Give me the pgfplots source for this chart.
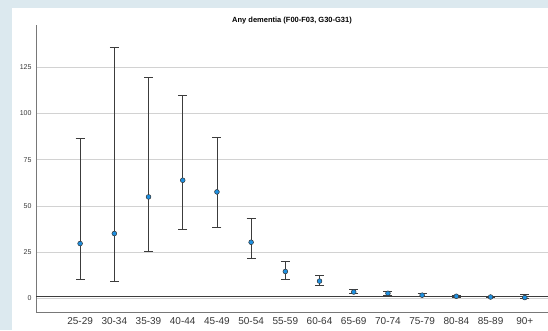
\documentclass[border=0pt]{standalone}
\usepackage{pgfplots}
\pgfplotsset{compat=1.18}
\usepackage{fontspec}
\setmainfont{Liberation Sans}
\definecolor{bgblue}{RGB}{220,233,239}
\definecolor{ptblue}{RGB}{30,144,225}
\definecolor{gridc}{RGB}{210,210,210}
\definecolor{axc}{RGB}{120,120,120}
\definecolor{barc}{RGB}{60,60,60}
\definecolor{txt}{RGB}{55,55,55}
\pgfplotstableread{
x y ep em
0 29.7 56.9 19.6
1 35.1 100.6 26.1
2 54.9 64.5 29.5
3 63.9 46.1 26.8
4 57.6 29.6 19.4
5 30.4 12.8 8.8
6 14.6 5.7 4.2
7 9.4 3.0 2.4
8 3.5 1.3 1.0
9 2.8 1.1 0.9
10 1.8 0.8 0.6
11 1.2 0.5 0.4
12 0.8 0.4 0.3
13 0.5 1.8 0.5
}\datatable
\begin{document}
\begin{tikzpicture}[x=1pt,y=1pt]
\path[use as bounding box] (0,0) rectangle (548,330);
\fill[bgblue] (0,0) rectangle (548,330);
\fill[white] (12,0) rectangle (548,322);
\begin{axis}[
  at={(36pt,18pt)}, anchor=south west,
  scale only axis, width=512pt, height=287pt,
  xmin=-1.29, xmax=13.68, ymin=-7.3, ymax=147.8,
  axis x line*=bottom, axis y line*=left,
  axis line style={draw=axc, line width=0.6pt, -},
  xtick={0,...,13},
  xticklabels={25-29,30-34,35-39,40-44,45-49,50-54,55-59,60-64,65-69,70-74,75-79,80-84,85-89,90+},
  ytick={0,25,50,75,100,125},
  major tick length=0pt,
  ymajorgrids, grid style={draw=gridc, line width=0.8pt},
  /pgf/number format/assume math mode=true,
  xticklabel style={font=\fontsize{10}{12}\selectfont, text=txt, yshift=-2pt},
  yticklabel style={font=\fontsize{7}{8}\selectfont, text=txt, xshift=-1pt},
  title={\bfseries Any dementia (F00-F03, G30-G31)},
  title style={font=\fontsize{7.5}{9}\selectfont, at={(0.5,1)}, anchor=south, yshift=-9pt},
  clip=false,
]
\addplot[barc, line width=0.9pt, forget plot] coordinates {(-1.29,1) (13.68,1)};
\addplot[only marks, mark=none,
  error bars/.cd, y dir=both, y explicit,
  error bar style={draw=barc, line width=0.8pt},
  error mark options={rotate=90, mark size=4.5pt, draw=barc, line width=0.8pt}]
  table[x=x, y=y, y error plus=ep, y error minus=em] {\datatable};
\addplot[only marks, mark=*, mark size=2.4pt,
  mark options={fill=ptblue, draw=barc, line width=0.5pt}]
  table[x=x, y=y] {\datatable};
\end{axis}
\end{tikzpicture}
\end{document}
